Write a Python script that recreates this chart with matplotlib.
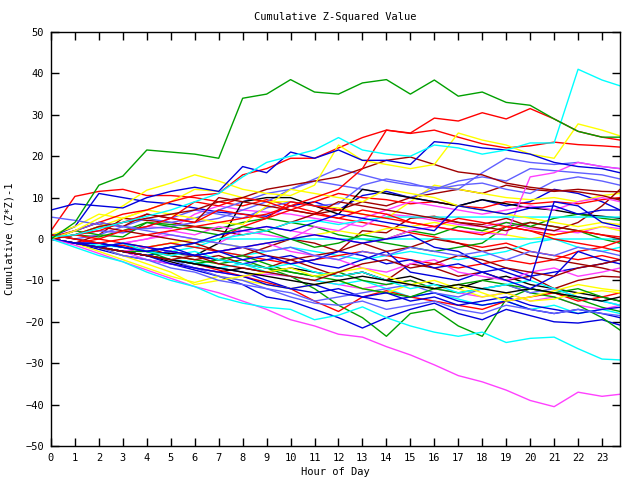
import matplotlib
matplotlib.use("Agg")
import matplotlib.pyplot as plt

hours = [0, 1, 2, 3, 4, 5, 6, 7, 8, 9, 10, 11, 12, 13, 14, 15, 16, 17, 18, 19, 20, 21, 22, 23, 23.75]

RED = '#ff0000'; GREEN = '#00a000'; BLUE = '#0000dd'; MAG = '#ff40ff'
CYAN = '#00ffff'; DRED = '#a00000'; YEL = '#ffff00'; SLATE = '#6060ff'; BLACK = '#000000'

green_top = [0, 4, 13, 15.2, 21.5, 21, 20.5, 19.5, 34, 35, 38.5, 35.5, 35, 37.7, 38.5, 35, 38.4, 34.5, 35.5, 33, 32.3, 29, 26, 24.6, 24.6]
cyan_top = [0.5, 1, 2.5, 4, 5.5, 7, 9, 11, 15, 18.5, 20, 21.5, 24.5, 21.5, 20.5, 20, 22.7, 22, 20.5, 21.5, 23.2, 23.2, 41, 38.4, 37]
red_a = [1, 0, -1, 0, 1, 2, 3, 4, 5, 6, 8, 10, 12, 17, 26.3, 25.6, 29.2, 28.5, 30.5, 29, 31.5, 29, 26, 24.6, 23.9]
red_b = [0.5, 2, 4, 6, 7, 9, 10.5, 11, 15.5, 17, 19.5, 19.5, 22, 24.5, 26.3, 25.5, 26.3, 24.6, 23, 22, 22.5, 23.4, 22.8, 22.5, 22.2]
red_c = [2, 10.3, 11.5, 12, 10.5, 10.5, 10, 9, 8, 9.5, 8, 6.5, 5, 4, 3, 1.5, 0.5, -1, -2, -1, -3, -4, -5, -4, -5]
blue_top = [7, 8.5, 8, 7.5, 10, 11.5, 12.5, 11.5, 17.5, 16, 21, 19.5, 21.5, 19, 19, 18, 23.5, 23, 22, 21.5, 20.5, 18.5, 17.5, 17, 16]
yellow_up = [0, 2, 5, 8, 11.8, 13.5, 15.5, 14, 12, 11, 10.5, 13, 22.7, 19, 18, 17, 18, 25.6, 23.9, 22.7, 20.5, 19.5, 27.8, 26.3, 24.9]
dred_up = [0, 1, 3, 4, 5, 6, 7, 9, 10, 12, 13, 14, 15, 17, 19, 19.8, 18, 16.2, 15.5, 13.5, 12.5, 11.8, 11.4, 10.5, 9.4]
slate_1 = [5.3, 4.5, 3.5, 3, 2.5, 3, 4, 5, 7, 9, 12, 14.5, 17, 15.5, 14, 13, 12.5, 12, 16, 19.5, 18.5, 18, 18.5, 17.5, 17]
mag_up = [0, -1, -2, -1, 0, 1, 0, -1, 2, 3, 2, 1, 0, -1, 0, 2, 3, 2, 1.5, 1, 15, 16, 18.5, 17.5, 17]
slate_2 = [1, 0, 1, 3, 5, 4, 5, 7, 9, 11, 12, 14, 13, 12, 11, 10, 12, 14, 15, 14, 17, 16.5, 16, 15.5, 14.5]
blue_2 = [0.5, 3, 11, 10, 9, 8.5, 7.5, 6.5, 6, 5.5, 8, 9, 7, 10.5, 11.5, 10, 9, 8, 9.5, 8, 9, 12, 11, 9, 7]
dred_2 = [0, -1, 1, 5, 4.5, 4, 3, 2, 1, 2, 4, 6, 7, 9, 8, 10, 11, 12, 11, 13, 12, 11.5, 12, 11.5, 11.4]
black_1 = [1, 0, -1, -2, -3, -3.5, -4, -1, 9, 10, 10, 8, 6, 12, 11, 10, 9, 8, 9.5, 8.5, 7.5, 7, 6, 5.5, 5]
cyan_flat5 = [0, -1, -1.5, -2, -3, -2, -1, 0, 1, 2, 4, 4.5, 3.5, 4.5, 5.3, 5.3, 5.3, 5.3, 5.3, 5.3, 5.3, 5.3, 5.3, 5.3, 5.3]
cyan_flat0 = [0, -1, -2, -3, -4, -3, -2, 0, 0, 0, 0, 0, 0, 0, 0, 0, 0, 0, 0, 0, 0, 0, 0, 0, 0]
mag_bottom = [0, -1.5, -3.5, -5.5, -7.5, -9.5, -11.5, -13, -15, -17, -19.5, -21, -23, -23.7, -26, -28, -30.4, -33, -34.5, -36.5, -39, -40.5, -37, -38, -37.5]
cyan_bottom = [0, -2, -4, -5.5, -8, -10, -11.5, -14, -15.5, -16.5, -17, -19.5, -18.4, -16.4, -19, -21, -22.5, -23.5, -22.5, -25, -24, -23.7, -26.5, -29, -29.2]
yellow_2 = [1, 3, 6, 5, 7, 9, 12, 11.5, 10, 9, 9, 8, 7.5, 6, 5, 9, 13, 12, 11, 10, 9.5, 10, 9, 10.5, 11]
slate_3 = [0, 1, 2, 1.5, 3, 5, 7, 6, 5, 7.5, 9, 8, 8.5, 13, 14.5, 13.5, 12, 13, 13.5, 12, 11, 14, 15, 14, 13]
red_4 = [0, -1, -2, -1.5, -3, -2, -1, 0, 3, 5, 7, 9, 11, 10, 9.5, 8.5, 9, 8, 7.5, 9, 8.5, 9, 8.5, 9.5, 10]
blue_3 = [0, -1, -1, -2, -3, -2, -1, 1, 2, 3, 2, 4, 6, 5, 4, 3, 2, 8, 7, 6, 7.5, 8, 6, 7, 7]
mag_2 = [0, 1, 2, 1.5, 3, 2.5, 6, 8, 7, 6.5, 6, 5, 4, 3, 6, 5.5, 4.5, 3.5, 3, 4, 2.5, 2, 1.5, 3, 2.5]
dred_3 = [0, -1, -2, -3, -4, -3, -4, -5, -4, -2, 0, -1, -3, 2, 1.5, 5, 5.5, 4, 3.5, 5, 3, 2, 4, 8, 12]
green_3 = [0, 1, 0.5, 2, 4, 3.5, 3, 2.5, 4, 5, 4, 3, 1, 0, -1, -2, -3, -2, -1, 3, 4, 3, 2, 0, -1]
yellow_3 = [0, -1, -2, -3, -2, -1, 0, -1, -2, -1, 0, 1, 2, 1, 2.5, 3, 4, 3, 2, 1, 0, 1, 2, 3, 2]
blue_4 = [0, -1, -2, -1, -2, -3, -4, -3, -2, -1, 0, 1, 0, -1, 0, 1, -2, -3, -6, -8, -10, 9, 8, 4, 3]
cyan_3 = [0, -1, -2, -3, -2, -1, -2, -3, -4, -3, -2, -3, -4, -5, -4, -3, -4, -5, -4, -3, -1, 0, -2, -3, -2]
red_5 = [0, -1, -2, -3, -4, -5, -6, -7.5, -9, -10.5, -12, -15, -17.5, -14, -12.5, -14, -15, -16, -17, -15, -14, -13, -15, -14, -13]
blue_5 = [0, -1, -2.5, -4, -5, -6, -7.5, -9, -11, -14, -15, -17, -19, -21.5, -19, -17, -15.5, -18, -19.5, -17, -18.5, -20, -20.3, -19.5, -20.8]
green_4 = [0, -1, -2, -3, -4, -3, -4, -5, -6, -7, -9, -12, -16, -19, -23.5, -18, -17, -21, -23.5, -14.5, -12, -13, -14.5, -16.5, -17.5]
mag_3 = [0, -1, -2, -3, -5, -6, -7, -8, -9, -8.5, -9, -10, -11, -12, -11, -10, -12, -13, -14, -13, -15, -14, -16, -17, -16]
dred_4 = [0, -1, -2, -3, -2, -4, -5, -4, -6, -7, -5, -7, -9, -8, -10, -6, -7, -9, -8, -10, -9, -12, -10, -9, -9.2]
slate_4 = [0, -1, -2, -3, -4, -5, -7, -9, -10, -12, -13, -15, -14, -13, -12, -11, -13, -14, -12, -11, -13, -12, -14, -15, -16]
yellow_4 = [0, -1, -3, -5, -7, -9, -10.5, -9, -10, -11, -12, -11, -10, -12, -13, -11, -10, -12, -14, -13, -15, -14.5, -13, -12.5, -13]
blue_6 = [0, -1, -2, -3, -4, -5, -6, -7, -8, -10, -12, -13, -12, -14, -15, -14, -13, -15, -16, -15, -17, -18, -17, -18, -19]
green_5 = [0, -1, -2, -1, -3, -4, -5, -6, -5, -7, -8, -9, -8, -10, -11, -10, -12, -13, -12, -11, -13, -14, -16, -19, -22]
red_6 = [0, 1, 0, -1, -2, -1, -2, -3, -4, -5, -6, -5, -4, -3, -4, -5, -6, -7, -6, -5, -6, -5, -3, -2, -0.5]
cyan_4 = [0, -1, -2, -3, -4, -5, -5.5, -7, -6, -8, -9, -10, -11, -10, -12, -14, -13, -14.5, -16, -15, -17, -16, -18, -17, -18]
dred_5 = [0, 1, 3, 2, 1, 0, -1, -3, -2, -4, -5, -4, -3, -1, -3, -2, 0, -1, -3, -2, -4, -5, -6, -7, -8]
slate_5 = [0, 2, 4, 3, 2, 1, 0, -1, -2, -3, -2, -4, -5, -3, -4, -2, -3, -4, -3, -5, -3, -4, -2, -3, -4]
black_2 = [0, -1, -2, -3, -4, -5.5, -7, -8, -7, -8, -7, -8, -9, -8, -10, -9, -11, -12, -10, -9, -11, -12, -13, -14, -15]
yellow_5 = [0, 1, 3, 5, 7, 6, 5, 4, 3.5, 8, 12, 11, 10, 9, 12, 11, 10, 8, 7, 6, 5, 4, 3, 4, 3.5]
mag_4 = [0, -1, -2, -1, 0, 2, 1, 3, 2, 1, 0, 3, 2, 5, 7, 9, 8, 7, 6, 7, 8, 7, 9, 10, 9]
blue_7 = [0, -1, -2, -3, -4, -3, -4, -5, -6, -5, -4, -6, -7, -5, -3, -8, -9, -10, -8, -7, -9, -8, -7, -6, -5]
green_6 = [0, 2, 1, 0.5, 4, 3, 2, 1, 3, 2, 0, -2, -1, 1, 0, 2, 1, 3, 2, 4, 3, 5, 6, 5, 4.5]
red_7 = [0, 1, 2, 4, 6, 5, 9, 8, 10, 9, 7, 6, 5, 7, 6, 4, 3, 2, 1, 3, 2, 0, -1, -2, -3]
dred_6 = [0, 2, 4, 3, 6, 5, 4, 10, 9, 8, 7, 6, 9, 8, 7, 6, 5, 4, 3, 2, 4, 3, 2, 1, 0]
red_8 = [0, -1, 0, 2, 3, 5, 4, 7, 6, 5, 9, 8, 7, 6, 5, 4, 3, 5, 4, 3, 2, 1, 2, 1, 0.5]
blue_8 = [0, -1, -2, -3, -4, -6, -7, -8, -9, -11, -12, -11, -13, -14, -13, -15, -14, -16, -15, -14, -16, -17, -18, -17, -16.5]
slate_6 = [0, -1, -2, -4, -5, -7, -8, -10, -11, -12, -14, -15.5, -16, -15, -17, -16, -15, -17, -18, -16, -17, -18, -17, -18, -18.5]
green_7 = [0, -1, -2, -3, -3, -5, -6, -5, -4, -6, -8, -9, -10, -12, -13, -14, -12, -11, -10, -11, -12, -13, -12, -14, -15]
yellow_6 = [0, -1, -2, -4, -6, -8, -11, -10, -9, -8, -7, -9, -8, -7, -9, -11, -12, -11, -13, -15, -14, -12.5, -11, -12, -12.5]
mag_5 = [0, -1, -2, -3, -2, -3, -4, -3, -2, -1, -3, -4, -5, -7, -8, -6, -5, -8, -9, -10, -8, -7, -9, -8, -7]
dred_7 = [0, -1, -2, -3, -4, -5, -4, -6, -7, -8, -9, -10, -8, -6, -5, -7, -6, -4, -5, -7, -8, -9, -7, -6, -5]
cyan_5 = [0, -1, -2, -1, -3, -4, -3, -5, -6, -7, -6, -8, -9, -8, -10, -12, -11, -13, -12, -11, -10, -12, -14, -15, -16]
blue_9 = [0, -1, -1, -2, -3, -2, -4, -3, -5, -4, -6, -5, -3, -4, -6, -5, -7, -6, -8, -10, -12, -9, -3, -5, -6]
black_3 = [0, -1, -2, -3, -4, -5, -6, -7, -8, -9, -10, -11, -10, -9, -10, -11, -12, -11, -12, -13, -12, -13, -14, -15, -14]

series = [
    (red_c, RED), (green_3, GREEN), (blue_2, BLUE), (mag_2, MAG), (cyan_3, CYAN), (dred_2, DRED),
    (yellow_2, YEL), (slate_1, SLATE), (black_2, BLACK),
    (red_4, RED), (green_4, GREEN), (blue_5, BLUE), (mag_3, MAG), (cyan_4, CYAN), (dred_3, DRED),
    (yellow_3, YEL), (slate_2, SLATE), (black_1, BLACK),
    (red_5, RED), (green_5, GREEN), (blue_6, BLUE), (mag_4, MAG), (cyan_flat0, CYAN), (dred_4, DRED),
    (yellow_4, YEL), (slate_3, SLATE),
    (red_6, RED), (green_6, GREEN), (blue_7, BLUE), (mag_up, MAG), (cyan_flat5, CYAN), (dred_5, DRED),
    (yellow_5, YEL), (slate_4, SLATE),
    (red_7, RED), (green_7, GREEN), (blue_8, BLUE), (mag_5, MAG), (cyan_5, CYAN), (dred_6, DRED),
    (yellow_6, YEL), (slate_6, SLATE), (black_3, BLACK),
    (red_8, RED), (blue_9, BLUE), (dred_7, DRED),
    (red_b, RED), (blue_4, BLUE), (slate_5, SLATE), (dred_up, DRED), (yellow_up, YEL),
    (blue_3, BLUE), (blue_top, BLUE), (red_a, RED),
    (mag_bottom, MAG), (cyan_bottom, CYAN), (cyan_top, CYAN), (green_top, GREEN),
]

plt.rcParams['font.family'] = ['DejaVu Sans Mono']
fig = plt.figure(figsize=(6.4, 4.8), dpi=100)
ax = fig.add_axes([51 / 640, 34 / 480, 569 / 640, 414 / 480])

for vals, col in series:
    ax.plot(hours, vals, color=col, linewidth=1.0)

ax.set_xlim(0, 23.75)
ax.set_ylim(-50, 50)
ax.set_xticks(range(0, 24))
ax.set_yticks(range(-50, 51, 10))
ax.tick_params(direction='in', length=6, width=1, top=True, right=True,
               labelsize=7.5, pad=5)
for sp in ax.spines.values():
    sp.set_linewidth(1)
ax.set_title('Cumulative Z-Squared Value', fontsize=7.5, pad=9)
ax.set_xlabel('Hour of Day', fontsize=7.5, labelpad=3)
ax.set_ylabel('Cumulative (Z*Z)-1', fontsize=7.5, labelpad=8)

fig.savefig('out.png', dpi=100)
